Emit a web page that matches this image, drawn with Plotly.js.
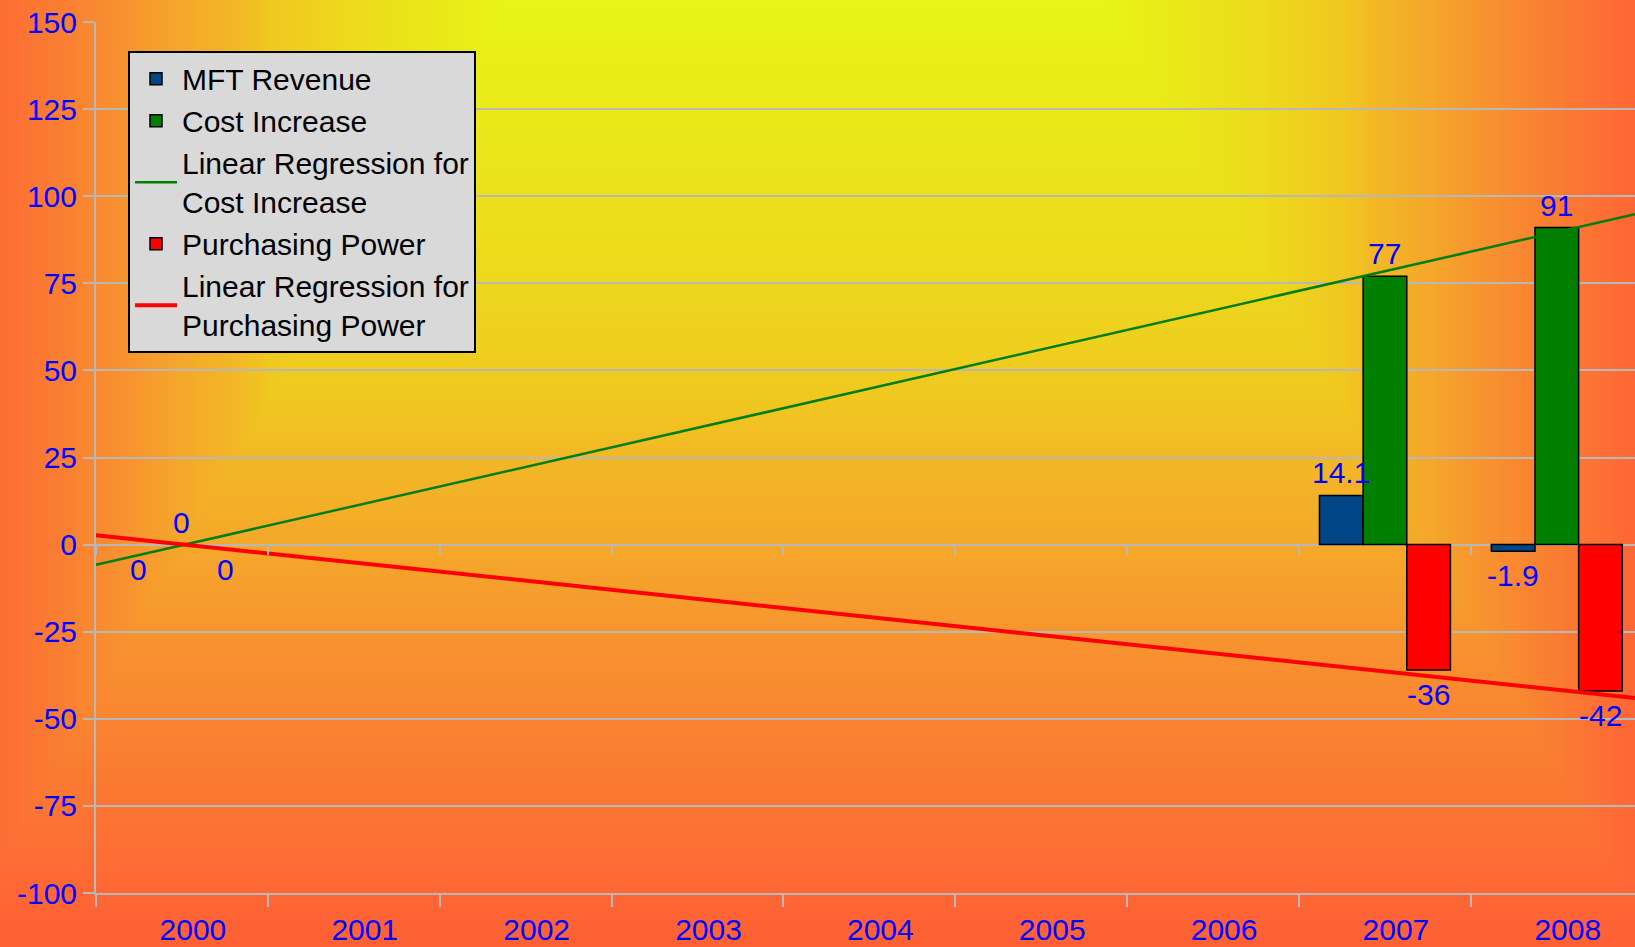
<!DOCTYPE html>
<html>
<head>
<meta charset="utf-8">
<script src="https://cdn.plot.ly/plotly-3.0.1.min.js"></script>
<style>
  html, body { margin: 0; padding: 0; }
  #chart { width: 1635px; height: 947px; background-color: #f5a52b; background-repeat: no-repeat; }
</style>
</head>
<body>
<div id="chart"></div>
<script>
const years = ['2000','2001','2002','2003','2004','2005','2006','2007','2008'];
const mftRevenue = [0, null, null, null, null, null, null, 14.1, -1.9];
const costIncrease = [0, null, null, null, null, null, null, 77, 91];
const purchasingPower = [0, null, null, null, null, null, null, -36, -42];
const yTickVals = [-100, -75, -50, -25, 0, 25, 50, 75, 100, 125, 150];

const xIdx = years.map((_, i) => i);
const xRange = [-0.5, 8.455];
const yRange = [-100, 150];
const BARGAP = 0.238;

// ---- background: rectangular gradient (style only) ----
(function paintBackground() {
  const W = 1635, H = 947, cx = 805, flat = 300, span = 560, b = 950;
  const stops = [
    [0.00, [232, 244, 21]], [0.26, [236, 220, 28]], [0.42, [240, 200, 32]], [0.48, [242, 184, 37]],
    [0.59, [245, 165, 43]], [0.69, [248, 144, 48]], [0.82, [250, 122, 50]], [0.95, [255, 101, 53]], [1.00, [255, 96, 53]]
  ];
  function col(t) {
    t = Math.min(1, Math.max(0, t));
    for (let i = 1; i < stops.length; i++) {
      if (t <= stops[i][0]) {
        const [t0, c0] = stops[i - 1], [t1, c1] = stops[i];
        const f = (t - t0) / (t1 - t0);
        return c0.map((v, k) => Math.round(v + (c1[k] - v) * f));
      }
    }
    return stops[stops.length - 1][1];
  }
  const cv = document.createElement('canvas');
  cv.width = W; cv.height = H;
  const ctx = cv.getContext('2d');
  const img = ctx.createImageData(W, H);
  for (let y = 0; y < H; y++) {
    const ty = y / b;
    for (let x = 0; x < W; x++) {
      const tx = Math.max(0, (Math.abs(x - cx) - flat) / span);
      const c = col(Math.max(tx, ty));
      const p = (y * W + x) * 4;
      img.data[p] = c[0]; img.data[p + 1] = c[1]; img.data[p + 2] = c[2]; img.data[p + 3] = 255;
    }
  }
  ctx.putImageData(img, 0, 0);
  document.getElementById('chart').style.backgroundImage = 'url(' + cv.toDataURL() + ')';
})();

function regression(vals) {
  const pts = vals.map((v, i) => [i, v]).filter(p => p[1] !== null);
  const n = pts.length;
  const mx = pts.reduce((s, p) => s + p[0], 0) / n;
  const my = pts.reduce((s, p) => s + p[1], 0) / n;
  let sxy = 0, sxx = 0;
  pts.forEach(p => { sxy += (p[0] - mx) * (p[1] - my); sxx += (p[0] - mx) ** 2; });
  const slope = sxy / sxx, icpt = my - slope * mx;
  return { x: xRange.slice(), y: xRange.map(x => icpt + slope * x) };
}
const costReg = regression(costIncrease);
const ppReg = regression(purchasingPower);

const FONT = 'Liberation Sans, Arial, sans-serif';
const BLUE = '#0000ff';
const GRID = '#b8b8b8';

function barTrace(name, vals, color) {
  return {
    type: 'bar', name: name, x: xIdx,
    // zero-height bars are not drawn (only their labels are shown)
    y: vals.map(v => (v === 0 ? null : v)),
    marker: { color: color, line: { color: '#000000', width: 1.5 } },
    hoverinfo: 'skip'
  };
}

const series = [
  { name: 'MFT Revenue', vals: mftRevenue, color: '#004586', zeroSide: 'below' },
  { name: 'Cost Increase', vals: costIncrease, color: '#007f00', zeroSide: 'above' },
  { name: 'Purchasing Power', vals: purchasingPower, color: '#ff0000', zeroSide: 'below' }
];

const traces = [
  barTrace(series[0].name, series[0].vals, series[0].color),
  barTrace(series[1].name, series[1].vals, series[1].color),
  { type: 'scatter', mode: 'lines', name: 'Linear Regression for<br>Cost Increase',
    x: costReg.x, y: costReg.y, xaxis: 'x2', line: { color: '#007f00', width: 2.5 }, hoverinfo: 'skip' },
  barTrace(series[2].name, series[2].vals, series[2].color),
  { type: 'scatter', mode: 'lines', name: 'Linear Regression for<br>Purchasing Power',
    x: ppReg.x, y: ppReg.y, xaxis: 'x2', line: { color: '#ff0000', width: 4 }, hoverinfo: 'skip' }
];

// data labels, placed on each bar of the group
const barW = (1 - BARGAP) / series.length;
const annotations = [];
series.forEach((s, k) => {
  const off = (k - (series.length - 1) / 2) * barW;
  s.vals.forEach((v, i) => {
    if (v === null) return;
    const above = v > 0 || (v === 0 && s.zeroSide === 'above');
    annotations.push({
      x: xIdx[i] + off, y: v, xref: 'x', yref: 'y', text: String(v), showarrow: false,
      yanchor: above ? 'bottom' : 'top', yshift: above ? 5 : -7,
      font: { family: FONT, size: 30, color: BLUE }, borderpad: 0
    });
  });
});

const layout = {
  width: 1635, height: 947,
  margin: { l: 96, r: 0, t: 22, b: 54 },
  paper_bgcolor: 'rgba(0,0,0,0)',
  plot_bgcolor: 'rgba(0,0,0,0)',
  font: { family: FONT, size: 30, color: BLUE },
  barmode: 'group', bargap: BARGAP, bargroupgap: 0,
  showlegend: true,
  annotations: annotations,
  legend: {
    x: 0.0208, y: 0.967, xanchor: 'left', yanchor: 'top',
    bgcolor: '#d9d9d9', bordercolor: '#000000', borderwidth: 2,
    font: { family: FONT, size: 30, color: '#000000' },
    traceorder: 'normal', tracegroupgap: 0, itemwidth: 42
  },
  xaxis: {
    type: 'linear', range: xRange, fixedrange: true,
    tickmode: 'array', tickvals: xIdx, ticktext: years,
    ticks: '', ticklabelshift: 11, ticklabelstandoff: 9,
    tickfont: { family: FONT, size: 30, color: BLUE },
    showgrid: false, zeroline: false,
    showline: true, linecolor: GRID, linewidth: 2,
    minor: { tick0: -0.5, dtick: 1, ticks: 'outside', ticklen: 12, tickwidth: 2, tickcolor: GRID, showgrid: false }
  },
  xaxis2: {
    type: 'linear', matches: 'x', overlaying: 'x', anchor: 'free',
    position: (0 - yRange[0]) / (yRange[1] - yRange[0]),
    tickmode: 'linear', tick0: -0.5, dtick: 1, ticks: 'outside', ticklen: 9, tickwidth: 2, tickcolor: GRID,
    showticklabels: false, showgrid: false, zeroline: false, showline: false
  },
  yaxis: {
    range: yRange, fixedrange: true, tickmode: 'array', tickvals: yTickVals, ticktext: yTickVals.map(String),
    ticks: 'outside', ticklen: 11, tickwidth: 2, tickcolor: GRID,
    tickfont: { family: FONT, size: 30, color: BLUE },
    showgrid: true, gridcolor: GRID, gridwidth: 2,
    zeroline: true, zerolinecolor: GRID, zerolinewidth: 2,
    showline: true, linecolor: GRID, linewidth: 2
  }
};

Plotly.newPlot('chart', traces, layout, { displayModeBar: false, staticPlot: true });
</script>
</body>
</html>
